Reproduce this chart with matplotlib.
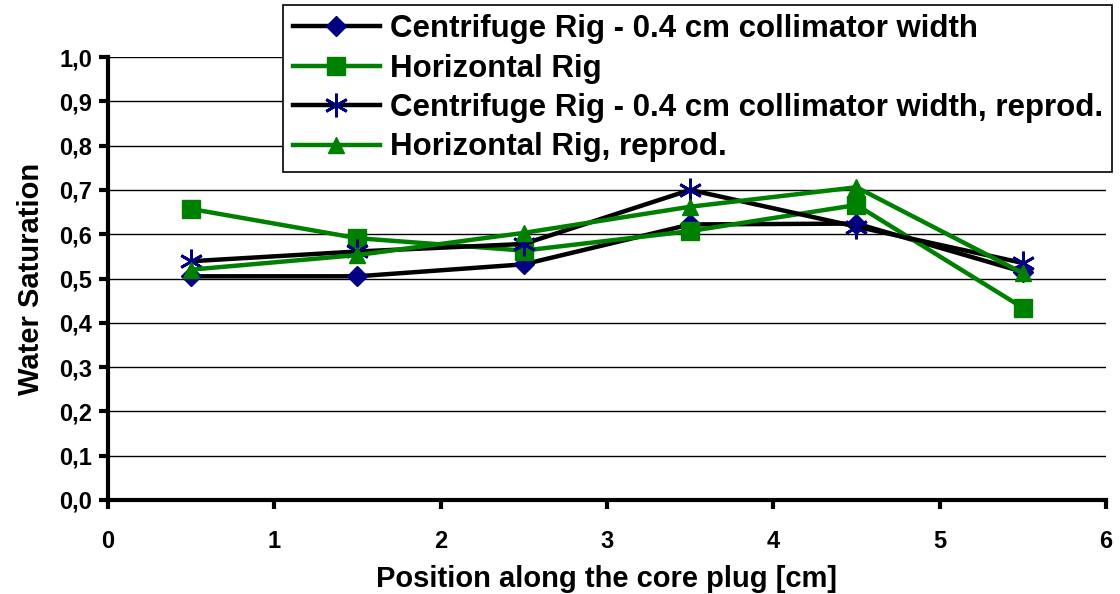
import matplotlib.pyplot as plt

plt.rcParams['font.family'] = ['Liberation Sans', 'DejaVu Sans']
plt.rcParams['font.weight'] = 'bold'

position = [0.5, 1.5, 2.5, 3.5, 4.5, 5.5]
centrifuge = [0.505, 0.505, 0.532, 0.622, 0.624, 0.515]
horizontal = [0.657, 0.591, 0.563, 0.607, 0.666, 0.434]
centrifuge_rep = [0.539, 0.561, 0.578, 0.700, 0.617, 0.535]
horizontal_rep = [0.520, 0.553, 0.603, 0.662, 0.706, 0.512]

labels = ["Centrifuge Rig - 0.4 cm collimator width",
          "Horizontal Rig",
          "Centrifuge Rig - 0.4 cm collimator width, reprod.",
          "Horizontal Rig, reprod."]
yticks = [0.0, 0.1, 0.2, 0.3, 0.4, 0.5, 0.6, 0.7, 0.8, 0.9, 1.0]
ytick_labels = ["0,0", "0,1", "0,2", "0,3", "0,4", "0,5", "0,6", "0,7", "0,8", "0,9", "1,0"]

navy = '#000080'
green = '#008000'

fig = plt.figure(figsize=(11.2, 5.94), dpi=100)
ax = fig.add_axes([0.0964, 1 - 500 / 594, 0.8911, 443 / 594])

ax.plot(position, centrifuge, color='black', lw=3.2, marker='D', ms=10,
        mfc=navy, mec=navy, label=labels[0], zorder=3)
ax.plot(position, horizontal, color=green, lw=3.2, marker='s', ms=13,
        mfc=green, mec=green, label=labels[1], zorder=3)
ax.plot(position, centrifuge_rep, color='black', lw=3.2, marker=(6, 2, 0), ms=17,
        mfc=navy, mec=navy, mew=2, label=labels[2], zorder=3)
ax.plot(position, horizontal_rep, color=green, lw=3.2, marker='^', ms=12,
        mfc=green, mec=green, label=labels[3], zorder=3)

ax.set_xlim(0, 6)
ax.set_ylim(0, 1.0)
ax.set_yticks(yticks)
ax.set_yticklabels(ytick_labels)
ax.set_xticks(range(7))
ax.grid(axis='y', color='black', lw=1)
ax.set_axisbelow(True)
for s in ['top', 'right']:
    ax.spines[s].set_visible(False)
for s in ['left', 'bottom']:
    ax.spines[s].set_linewidth(3)
ax.tick_params(direction='out', width=3, length=6.5, labelsize=17)
ax.tick_params(axis='x', pad=15)
ax.tick_params(axis='y', pad=5)
ax.set_xlabel("Position along the core plug [cm]", fontsize=21, fontweight='bold', labelpad=9)
ax.set_ylabel("Water Saturation", fontsize=21, fontweight='bold', labelpad=10)

leg = fig.legend(loc='upper right', bbox_to_anchor=(1112 / 1120, 1 - 5 / 594),
                 prop={'size': 22.5, 'weight': 'bold'}, fancybox=False,
                 edgecolor='black', framealpha=1, borderpad=0.3, borderaxespad=0,
                 labelspacing=0.3, handlelength=2.8, handletextpad=0.3)
leg.get_frame().set_linewidth(1.2)

fig.savefig('out.png', dpi=100)
